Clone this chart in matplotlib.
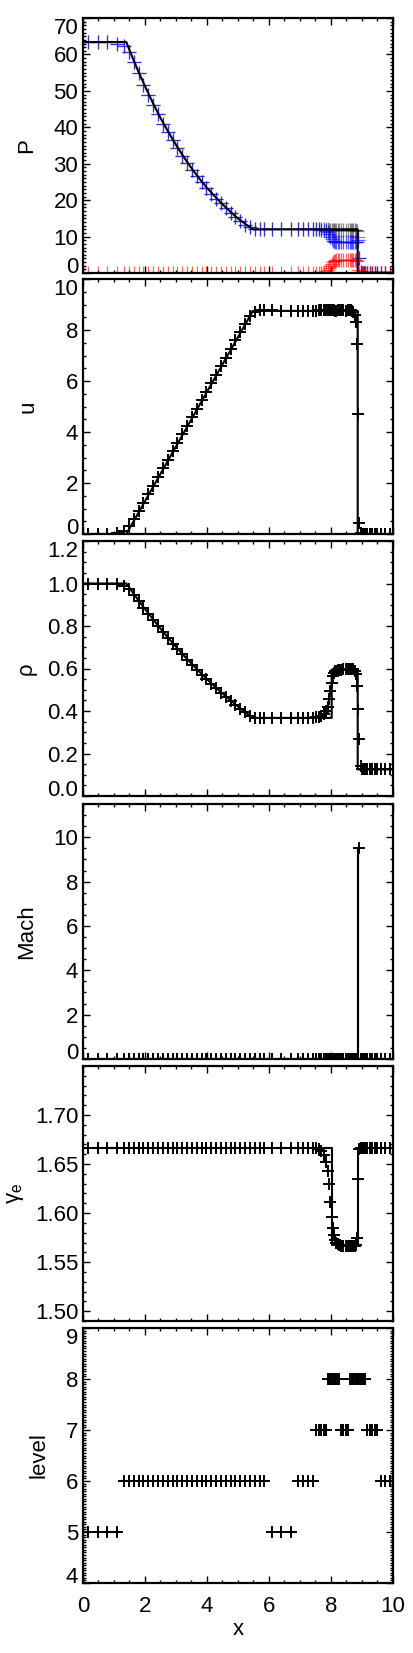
import matplotlib
matplotlib.use("Agg")
import matplotlib.pyplot as plt
from matplotlib.ticker import AutoMinorLocator, FormatStrFormatter

plt.rcParams['font.family'] = ['Liberation Sans', 'DejaVu Sans']
plt.rcParams['mathtext.fontset'] = 'custom'
plt.rcParams['mathtext.rm'] = 'Liberation Sans'
plt.rcParams['mathtext.it'] = 'Liberation Sans:italic'

# cell centres of the AMR grid (one block per refinement patch)
x_cell = [0.156, 0.469, 0.781, 1.094,
          1.328, 1.484, 1.641, 1.797, 1.953, 2.109, 2.266, 2.422, 2.578, 2.734,
          2.891, 3.047, 3.203, 3.359, 3.516, 3.672, 3.828, 3.984, 4.141, 4.297,
          4.453, 4.609, 4.766, 4.922, 5.078, 5.234, 5.391, 5.547, 5.703, 5.859,
          6.094, 6.406, 6.719,
          6.953, 7.109, 7.266, 7.422,
          7.539, 7.617, 7.695, 7.773, 7.852,
          7.910, 7.949, 7.988, 8.027, 8.066, 8.105, 8.145, 8.184, 8.223, 8.262,
          8.320, 8.398, 8.477, 8.555,
          8.613, 8.652, 8.691, 8.730, 8.770, 8.809, 8.848, 8.887, 8.926, 8.965,
          9.004, 9.043, 9.082, 9.121,
          9.180, 9.258, 9.336, 9.414, 9.492,
          9.609, 9.766, 9.922]

level = [5, 5, 5, 5,
         6, 6, 6, 6, 6, 6, 6, 6, 6, 6, 6, 6, 6, 6, 6, 6, 6, 6, 6, 6,
         6, 6, 6, 6, 6, 6, 6, 6, 6, 6,
         5, 5, 5,
         6, 6, 6, 6,
         7, 7, 7, 7, 7,
         8, 8, 8, 8, 8, 8, 8, 8, 8, 8,
         7, 7, 7, 7,
         8, 8, 8, 8, 8, 8, 8, 8, 8, 8, 8, 8, 8, 8,
         7, 7, 7, 7, 7,
         6, 6, 6]

p_tot = [63.4, 63.4, 63.3, 62.8,
         62.2, 60.8, 57.8, 54.8, 51.7, 48.9, 46.1, 43.6, 41.0, 38.7,
         36.4, 34.3, 32.2, 30.3, 28.4, 26.6, 24.9, 23.4, 21.8, 20.4,
         19.1, 17.8, 16.6, 15.4, 14.3, 13.3, 12.5, 12.1, 12.0, 12.0,
         12.0, 12.0, 12.0,
         12.0, 12.0, 12.0, 12.0,
         12.0, 12.0, 12.0, 12.0, 12.0,
         12.0, 11.9, 11.9, 11.8, 11.8, 11.8, 11.9, 11.9, 11.9, 11.9,
         11.9, 11.9, 11.9, 11.9,
         11.9, 11.9, 11.9, 11.9, 11.9, 11.8, 11.6, 9.9, 4.1, 0.3,
         0.1, 0.1, 0.1, 0.1,
         0.1, 0.1, 0.1, 0.1, 0.1,
         0.1, 0.1, 0.1]

p_gas = [63.4, 63.4, 63.3, 62.8,
         62.2, 60.8, 57.8, 54.8, 51.7, 48.9, 46.1, 43.6, 41.0, 38.7,
         36.4, 34.3, 32.2, 30.3, 28.4, 26.6, 24.9, 23.4, 21.8, 20.4,
         19.1, 17.8, 16.6, 15.4, 14.3, 13.3, 12.5, 12.1, 12.0, 12.0,
         12.0, 12.0, 12.0,
         12.0, 12.0, 12.0, 12.0,
         11.99, 11.96, 11.87, 11.72, 11.47,
         11.15, 10.6, 9.9, 9.3, 8.9, 8.7, 8.6, 8.5, 8.45, 8.4,
         8.4, 8.4, 8.4, 8.4,
         8.4, 8.4, 8.4, 8.4, 8.4, 8.4, 8.5, 9.0, 4.0, 0.3,
         0.1, 0.1, 0.1, 0.1,
         0.1, 0.1, 0.1, 0.1, 0.1,
         0.1, 0.1, 0.1]

p_cr = [0, 0, 0, 0,
        0, 0, 0, 0, 0, 0, 0, 0, 0, 0, 0, 0, 0, 0, 0, 0, 0, 0, 0, 0,
        0, 0, 0, 0, 0, 0, 0, 0, 0, 0,
        0, 0, 0,
        0, 0, 0, 0,
        0.01, 0.04, 0.13, 0.28, 0.53,
        0.85, 1.32, 2.0, 2.55, 2.94, 3.19, 3.37, 3.48, 3.55, 3.6,
        3.62, 3.62, 3.62, 3.62,
        3.62, 3.62, 3.62, 3.62, 3.62, 3.6, 3.3, 0.95, 0.1, 0,
        0, 0, 0, 0,
        0, 0, 0, 0, 0,
        0, 0, 0]

u_cell = [0, 0, 0, 0.02,
          0.1, 0.3, 0.58, 0.9, 1.23, 1.56, 1.9, 2.23, 2.57, 2.9,
          3.24, 3.57, 3.91, 4.24, 4.58, 4.91, 5.25, 5.58, 5.92, 6.25,
          6.59, 6.92, 7.26, 7.59, 7.93, 8.25, 8.55, 8.72, 8.8, 8.8,
          8.78, 8.76, 8.75,
          8.75, 8.75, 8.75, 8.75,
          8.76, 8.78, 8.8, 8.8, 8.78,
          8.77, 8.78, 8.8, 8.8, 8.78, 8.77, 8.76, 8.76, 8.77, 8.78,
          8.8, 8.78, 8.76, 8.78,
          8.8, 8.78, 8.75, 8.7, 8.6, 8.3, 7.45, 4.7, 0.45, 0.05,
          0, 0, 0, 0,
          0, 0, 0, 0, 0,
          0, 0, 0]

rho_cell = [1.0, 1.0, 1.0, 0.997,
            0.99, 0.975, 0.946, 0.916, 0.885, 0.856, 0.826, 0.798, 0.770, 0.744,
            0.717, 0.691, 0.666, 0.642, 0.617, 0.594, 0.571, 0.550, 0.528, 0.507,
            0.486, 0.467, 0.447, 0.429, 0.410, 0.393, 0.377, 0.369, 0.368, 0.368,
            0.368, 0.368, 0.368,
            0.368, 0.368, 0.368, 0.368,
            0.370, 0.372, 0.377, 0.385, 0.40,
            0.42, 0.457, 0.493, 0.532, 0.563, 0.578, 0.586, 0.59, 0.592, 0.594,
            0.595, 0.597, 0.598, 0.60,
            0.60, 0.60, 0.599, 0.597, 0.59, 0.575, 0.52, 0.41, 0.27, 0.14,
            0.125, 0.125, 0.125, 0.125,
            0.125, 0.125, 0.125, 0.125, 0.125,
            0.125, 0.125, 0.125]

mach_cell = [0, 0, 0, 0,
             0, 0, 0, 0, 0, 0, 0, 0, 0, 0, 0, 0, 0, 0, 0, 0, 0, 0, 0, 0,
             0, 0, 0, 0, 0, 0, 0, 0, 0, 0,
             0, 0, 0,
             0, 0, 0, 0,
             0, 0, 0, 0, 0,
             0, 0, 0, 0, 0, 0, 0, 0, 0, 0,
             0, 0, 0, 0,
             0, 0, 0, 0, 0, 0, 0, 0, 9.5, 0,
             0, 0, 0, 0,
             0, 0, 0, 0, 0,
             0, 0, 0]

gamma_cell = [1.6667, 1.6667, 1.6667, 1.6667,
              1.6667, 1.6667, 1.6667, 1.6667, 1.6667, 1.6667, 1.6667, 1.6667,
              1.6667, 1.6667, 1.6667, 1.6667, 1.6667, 1.6667, 1.6667, 1.6667,
              1.6667, 1.6667, 1.6667, 1.6667, 1.6667, 1.6667, 1.6667, 1.6667,
              1.6667, 1.6667, 1.6667, 1.6667, 1.6667, 1.6667,
              1.6667, 1.6667, 1.6667,
              1.6667, 1.6667, 1.6667, 1.6667,
              1.6665, 1.6655, 1.663, 1.659, 1.652,
              1.643, 1.630, 1.611, 1.596, 1.585, 1.578, 1.573, 1.570, 1.568, 1.567,
              1.566, 1.566, 1.566, 1.566,
              1.566, 1.566, 1.566, 1.566, 1.566, 1.567, 1.575, 1.635, 1.665, 1.6667,
              1.6667, 1.6667, 1.6667, 1.6667,
              1.6667, 1.6667, 1.6667, 1.6667, 1.6667,
              1.6667, 1.6667, 1.6667]

# exact Riemann solution
x_ex = [0, 1.40, 1.6, 1.8, 2.0, 2.25, 2.5, 2.75, 3.0, 3.25, 3.5, 3.75,
        4.0, 4.25, 4.5, 4.75, 5.0, 5.25, 5.485, 8.87, 8.87, 10]
p_ex = [63.4, 63.4, 59.1, 55.1, 51.3, 46.8, 42.6, 38.8, 35.2, 31.9, 28.8, 26.0,
        23.4, 21.1, 18.9, 16.9, 15.0, 13.4, 12.0, 12.0, 0.1, 0.1]

x_ex_rho = [0, 1.40, 1.6, 1.8, 2.0, 2.25, 2.5, 2.75, 3.0, 3.25, 3.5, 3.75,
            4.0, 4.25, 4.5, 4.75, 5.0, 5.25, 5.485, 8.03, 8.03, 8.87, 8.87, 10]
rho_ex = [1.0, 1.0, 0.959, 0.919, 0.880, 0.834, 0.788, 0.744, 0.703, 0.662, 0.623, 0.586,
          0.550, 0.516, 0.483, 0.452, 0.422, 0.393, 0.3675, 0.3675, 0.595, 0.595, 0.125, 0.125]

x_ex_u = [0, 1.40, 5.485, 8.87, 8.87, 10]
u_ex = [0, 0, 8.75, 8.75, 0, 0]

x_ex_mach = [0, 8.87, 8.87, 8.87, 10]
mach_ex = [0, 0, 9.5, 0, 0]

x_ex_gam = [0, 8.03, 8.03, 8.87, 8.87, 10]
gam_ex = [1.6667, 1.6667, 1.567, 1.567, 1.6667, 1.6667]

fig = plt.figure(figsize=(4.13, 16.53), dpi=100)
W, H = 413.0, 1653.0
tops = [18, 279, 541, 804, 1066, 1328]
left_px, right_px, panel_h = 83, 392.7, 255

axes = []
for t in tops:
    ax = fig.add_axes([left_px / W, 1 - (t + panel_h) / H, (right_px - left_px) / W, panel_h / H])
    axes.append(ax)

mk = dict(marker='+', linestyle='none', markersize=9, markeredgewidth=1.4, color='k')
line_kw = dict(color='k', linewidth=1.5, zorder=4)

# P
ax = axes[0]
ax.plot(x_cell, p_tot, marker='+', linestyle='none', markersize=9.5, markeredgewidth=0.9, color='k', alpha=0.45)
ax.plot(x_cell, p_gas, marker='+', linestyle='none', markersize=9.5, markeredgewidth=0.9, color='blue', alpha=0.65)
ax.plot(x_cell, p_cr, marker='+', linestyle='none', markersize=9.5, markeredgewidth=0.9, color='red', alpha=0.6)
ax.plot(x_ex, p_ex, **line_kw)
ax.set_ylim(0, 70)
ax.set_yticks([0, 10, 20, 30, 40, 50, 60, 70])
ax.yaxis.set_minor_locator(AutoMinorLocator(10))
ax.set_ylabel('P')

# u
ax = axes[1]
ax.plot(x_cell, u_cell, **mk)
ax.plot(x_ex_u, u_ex, **line_kw)
ax.set_ylim(0, 10)
ax.set_yticks([0, 2, 4, 6, 8, 10])
ax.yaxis.set_minor_locator(AutoMinorLocator(4))
ax.set_ylabel('u')

# rho
ax = axes[2]
ax.plot(x_cell, rho_cell, **mk)
ax.plot(x_ex_rho, rho_ex, **line_kw)
ax.set_ylim(0, 1.2)
ax.set_yticks([0, 0.2, 0.4, 0.6, 0.8, 1.0, 1.2])
ax.yaxis.set_major_formatter(FormatStrFormatter('%.1f'))
ax.yaxis.set_minor_locator(AutoMinorLocator(4))
ax.set_ylabel('ρ')

# Mach
ax = axes[3]
ax.plot(x_cell, mach_cell, **mk)
ax.plot(x_ex_mach, mach_ex, **line_kw)
ax.set_ylim(0, 11.5)
ax.set_yticks([0, 2, 4, 6, 8, 10])
ax.yaxis.set_minor_locator(AutoMinorLocator(4))
ax.set_ylabel('Mach')

# gamma_e
ax = axes[4]
ax.plot(x_cell, gamma_cell, **mk)
ax.plot(x_ex_gam, gam_ex, **line_kw)
ax.set_ylim(1.49, 1.75)
ax.set_yticks([1.50, 1.55, 1.60, 1.65, 1.70])
ax.yaxis.set_major_formatter(FormatStrFormatter('%.2f'))
ax.yaxis.set_minor_locator(AutoMinorLocator(5))
ax.set_ylabel(r'$\mathregular{\gamma_e}$')

# level
ax = axes[5]
ax.plot(x_cell, level, **mk)
ax.set_ylim(4, 9)
ax.set_yticks([4, 5, 6, 7, 8, 9])
ax.yaxis.set_minor_locator(AutoMinorLocator(20))
ax.set_ylabel('level')
ax.set_xlabel('x', fontsize=16, va='center')
ax.xaxis.set_label_coords(0.5, -0.181)

label_x = [-0.182, -0.179, -0.185, -0.182, -0.219, -0.142]
for i, ax in enumerate(axes):
    ax.set_xlim(0, 10)
    ax.set_xticks([0, 2, 4, 6, 8, 10])
    ax.xaxis.set_minor_locator(AutoMinorLocator(4))
    ax.tick_params(which='both', direction='in', top=True, right=True, width=1.0,
                   labelsize=16)
    ax.tick_params(which='major', length=5)
    ax.tick_params(which='minor', length=2.5)
    ax.tick_params(axis='y', pad=3.5)
    ax.tick_params(axis='x', pad=9)
    for s in ax.spines.values():
        s.set_linewidth(1.6)
    if i < 5:
        ax.tick_params(axis='x', labelbottom=False)
    ax.yaxis.label.set_fontsize(16)
    ax.yaxis.label.set_va('center')
    ax.yaxis.set_label_coords(label_x[i], 0.5)
    # labels at the frame edges are pulled inside the frame
    lo, hi = ax.get_ylim()
    for val, lab in zip(ax.get_yticks(), ax.get_yticklabels()):
        if abs(val - hi) < 1e-6:
            lab.set_va('top')
        elif abs(val - lo) < 1e-6:
            lab.set_va('baseline')

fig.savefig('out.png', dpi=100)
